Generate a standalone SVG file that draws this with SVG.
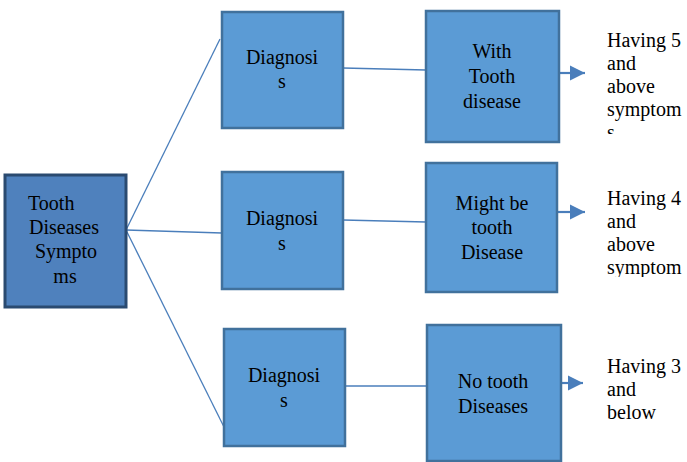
<svg xmlns="http://www.w3.org/2000/svg" width="687" height="462" viewBox="0 0 687 462" font-family="'Liberation Serif', 'DejaVu Serif', serif">
<style>
.t{font-family:'Liberation Serif','DejaVu Serif',serif;font-size:20px;fill:#000}
.c{text-anchor:middle}
.box{fill:#5b9bd5;stroke:#41719c;stroke-width:2.5}
.root{fill:#4f81bd;stroke:#2a4a70;stroke-width:3}
.ln{stroke:#4a7ebb;stroke-width:1.3;fill:none}
.ar{stroke:#4a7ebb;stroke-width:2.2;fill:none}
</style>
<defs>
<marker id="ah" markerUnits="userSpaceOnUse" markerWidth="16" markerHeight="16" refX="15" refY="8" orient="auto">
<path d="M0,0.5 L15,8 L0,15.5 Z" fill="#4a7ebb"/>
</marker>
<clipPath id="c1"><rect x="600" y="0" width="87" height="134"/></clipPath>
<clipPath id="c2"><rect x="600" y="160" width="87" height="117"/></clipPath>
</defs>
<rect width="687" height="462" fill="#fff"/>
<g id="connectors">
<line class="ln" x1="126" y1="230" x2="220" y2="39"/>
<line class="ln" x1="126" y1="230" x2="222" y2="233"/>
<line class="ln" x1="126" y1="230" x2="224" y2="427"/>
<line class="ln" x1="343" y1="68" x2="426" y2="70"/>
<line class="ln" x1="343" y1="220" x2="426" y2="222"/>
<line class="ln" x1="345" y1="386" x2="427" y2="386"/>
<line class="ar" x1="559" y1="73" x2="585" y2="73" marker-end="url(#ah)"/>
<line class="ar" x1="557" y1="212" x2="585" y2="212" marker-end="url(#ah)"/>
<line class="ar" x1="561" y1="383" x2="583" y2="383" marker-end="url(#ah)"/>
</g>
<g id="root">
<rect class="root" x="5" y="175" width="121" height="132"/>
<text class="t" x="28" y="210">Tooth</text>
<text class="t c" x="64" y="234">Diseases</text>
<text class="t c" x="66" y="258">Sympto</text>
<text class="t c" x="65" y="283">ms</text>
</g>
<g id="diag1">
<rect class="box" x="222" y="12" width="121" height="116"/>
<text class="t c" x="282" y="64">Diagnosi</text>
<text class="t c" x="282" y="88">s</text>
</g>
<g id="diag2">
<rect class="box" x="222" y="172" width="121" height="117"/>
<text class="t c" x="282" y="225">Diagnosi</text>
<text class="t c" x="282" y="250">s</text>
</g>
<g id="diag3">
<rect class="box" x="224" y="329" width="121" height="117"/>
<text class="t c" x="284" y="382">Diagnosi</text>
<text class="t c" x="284" y="407">s</text>
</g>
<g id="with">
<rect class="box" x="426" y="11" width="133" height="131"/>
<text class="t c" x="492" y="58">With</text>
<text class="t c" x="492" y="83">Tooth</text>
<text class="t c" x="492" y="108">disease</text>
</g>
<g id="might">
<rect class="box" x="426" y="163" width="131" height="129"/>
<text class="t c" x="492" y="210">Might be</text>
<text class="t c" x="492" y="234">tooth</text>
<text class="t c" x="492" y="259">Disease</text>
</g>
<g id="notooth">
<rect class="box" x="427" y="325" width="134" height="136"/>
<text class="t c" x="493" y="388">No tooth</text>
<text class="t c" x="493" y="413">Diseases</text>
</g>
<g id="label1" clip-path="url(#c1)">
<text class="t" x="607" y="47">Having 5</text>
<text class="t" x="607" y="70">and</text>
<text class="t" x="607" y="93">above</text>
<text class="t" x="607" y="116">symptom</text>
<text class="t" x="607" y="139">s</text>
</g>
<g id="label2" clip-path="url(#c2)">
<text class="t" x="607" y="205">Having 4</text>
<text class="t" x="607" y="228">and</text>
<text class="t" x="607" y="251">above</text>
<text class="t" x="607" y="274">symptom</text>
</g>
<g id="label3">
<text class="t" x="607" y="373">Having 3</text>
<text class="t" x="607" y="396">and</text>
<text class="t" x="607" y="419">below</text>
</g>
</svg>
